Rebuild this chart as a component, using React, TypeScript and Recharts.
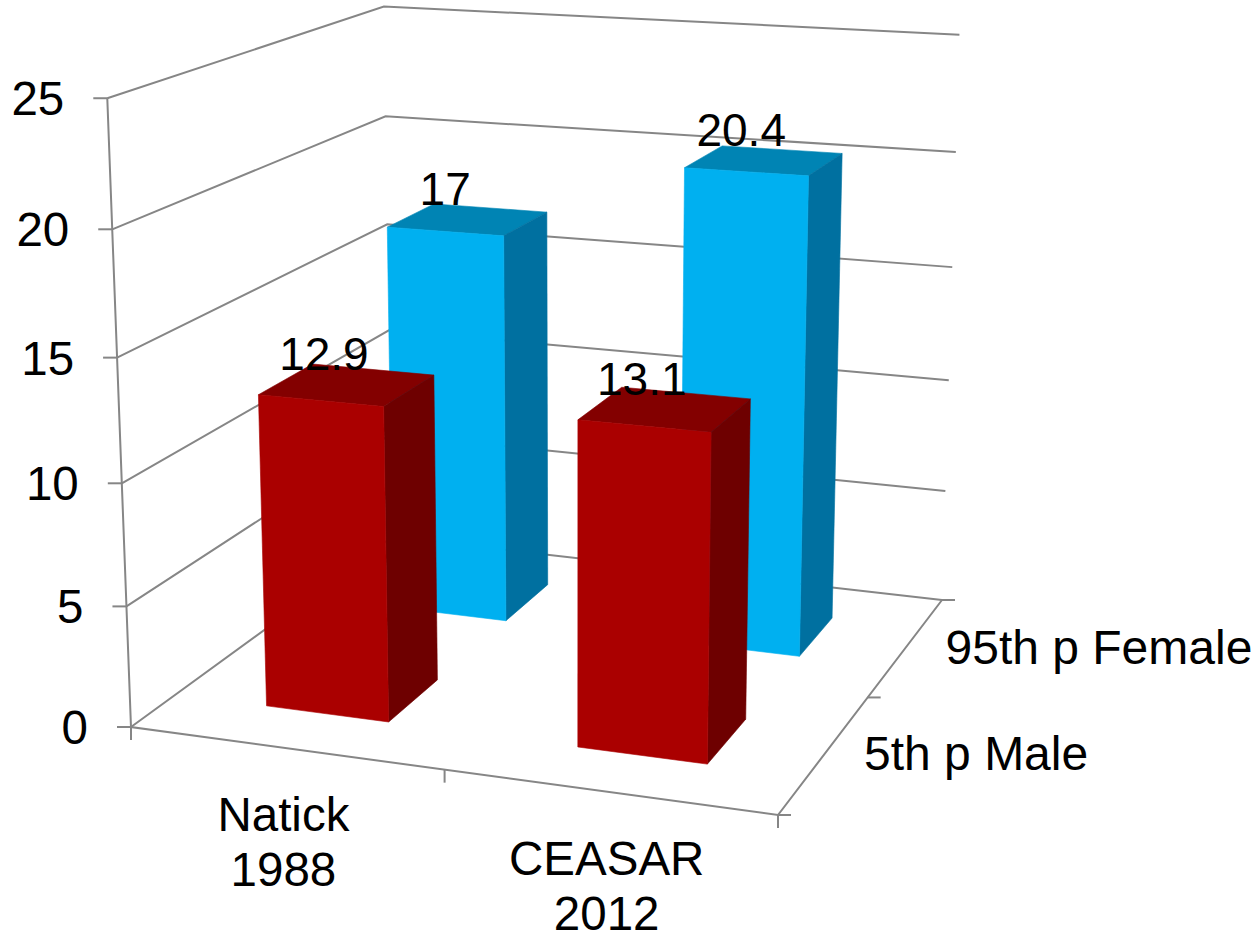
import React from 'react'
import { BarChart, Bar, XAxis, YAxis, CartesianGrid, LabelList } from 'recharts'

const categories = [['Natick', '1988'], ['CEASAR', '2012']]
const seriesNames = ['5th p Male', '95th p Female']
const maleValues = [12.9, 13.1]
const femaleValues = [17, 20.4]
const valueTicks = [0, 5, 10, 15, 20, 25]

const data = categories.map((c, i) => ({
  name: c.join(' '),
  male: maleValues[i],
  female: femaleValues[i],
}))

const W = 1257
const H = 936
const FONT = '"Liberation Sans", Arial, sans-serif'
const LABEL_SIZE = 46
const AXIS_SIZE = 47.5
const DEPTH_SIZE = 48
const GRID = '#868686'

// the chart's plot rectangle, which gets mapped onto the 3D box below
const M = 100
const PW = W - M * 2
const PH = H - M * 2

type Pt = [number, number]

// floor corners on screen, (u,v) = (0,0) (1,0) (1,1) (0,1)
const A: Pt = [131, 727]
const B: Pt = [778, 815]
const C: Pt = [942, 600]
const D: Pt = [392, 537]
// where the vertical edges meet, far below the picture
const VANISH: Pt = [575, 12500]
const HEIGHT = 0.0507
const HEIGHT_SKEW = 0.015

const den = (B[0] - C[0]) * (D[1] - C[1]) - (D[0] - C[0]) * (B[1] - C[1])
const sx = A[0] - B[0] + C[0] - D[0]
const sy = A[1] - B[1] + C[1] - D[1]
const G = (sx * (D[1] - C[1]) - (D[0] - C[0]) * sy) / den
const K = ((B[0] - C[0]) * sy - sx * (B[1] - C[1])) / den

// u along the front edge, v into the depth, t = value / max
function project(u: number, v: number, t: number): Pt {
  const q = G * u + K * v + 1
  const xq = (B[0] - A[0] + G * B[0]) * u + (D[0] - A[0] + K * D[0]) * v + A[0]
  const yq = (B[1] - A[1] + G * B[1]) * u + (D[1] - A[1] + K * D[1]) * v + A[1]
  const tau = -HEIGHT * (1 + HEIGHT_SKEW * u) * t
  return [(xq + tau * VANISH[0]) / (q + tau), (yq + tau * VANISH[1]) / (q + tau)]
}

const toU = (x: number) => (x - M) / PW
const toT = (y: number) => (M + PH - y) / PH
const pts = (list: Pt[]) => list.map((p) => p.join(',')).join(' ')

function barShape(v0: number, v1: number, front: string, side: string, top: string) {
  return (props: any) => {
    const { x, y, width } = props
    const u0 = toU(x)
    const u1 = toU(x + width)
    const t = toT(y)
    // thin same-colour stroke hides the seams between the faces
    return (
      <g strokeWidth={0.6}>
        <polygon fill={top} stroke={top} points={pts([project(u0, v0, t), project(u1, v0, t), project(u1, v1, t), project(u0, v1, t)])} />
        <polygon fill={side} stroke={side} points={pts([project(u1, v0, 0), project(u1, v1, 0), project(u1, v1, t), project(u1, v0, t)])} />
        <polygon fill={front} stroke={front} points={pts([project(u0, v0, 0), project(u1, v0, 0), project(u1, v0, t), project(u0, v0, t)])} />
      </g>
    )
  }
}

function barLabel(v: number) {
  return (props: any) => {
    const { x, y, width, value } = props
    const p = project(toU(x + width / 2), v, toT(y))
    return (
      <text x={p[0] - 24} y={p[1] - 14} textAnchor="middle" fontFamily={FONT} fontSize={LABEL_SIZE} fill="#000">
        {value}
      </text>
    )
  }
}

function GridLine(props: any) {
  const t = toT(props.y1)
  return (
    <polyline
      fill="none"
      stroke={GRID}
      strokeWidth={2}
      points={pts([project(0, 0, t), project(0, 1, t), project(1, 1, t)])}
    />
  )
}

function ValueTick(props: any) {
  const { y, payload } = props
  const p = project(0, 0, toT(y))
  return (
    <g>
      <line x1={p[0] - 14} y1={p[1]} x2={p[0]} y2={p[1]} stroke={GRID} strokeWidth={2} />
      <text x={p[0] - 43} y={p[1] + 17} textAnchor="end" fontFamily={FONT} fontSize={AXIS_SIZE} fill="#000">
        {payload.value}
      </text>
    </g>
  )
}

function CategoryTick(props: any) {
  const { x, index } = props
  const u = toU(x)
  const p = project(u, 0, 0)
  return (
    <text textAnchor="middle" fontFamily={FONT} fontSize={AXIS_SIZE} fill="#000">
      {categories[index].map((line, i) => (
        <tspan key={line} x={p[0] - 2} y={p[1] + 83 + i * 55}>
          {line}
        </tspan>
      ))}
    </text>
  )
}

// floor frame, its tick marks and the depth axis names
function FloorFrame() {
  const corners = [project(0, 0, 1), project(0, 0, 0), project(1, 0, 0), project(1, 1, 0)]
  const marks = [0, 0.5, 1].map((u) => project(u, 0, 0))
  const depthMarks = [0, 0.5, 1].map((v) => project(1, v, 0))
  return (
    <g>
      <polyline fill="none" stroke={GRID} strokeWidth={2} points={pts(corners)} />
      {marks.map((p, i) => (
        <line key={i} x1={p[0]} y1={p[1]} x2={p[0]} y2={p[1] + 13} stroke={GRID} strokeWidth={2} />
      ))}
      {depthMarks.map((p, i) => (
        <line key={i} x1={p[0]} y1={p[1]} x2={p[0] + 13} y2={p[1]} stroke={GRID} strokeWidth={2} />
      ))}
      {seriesNames.map((name, i) => {
        const p = project(1, (i + 0.5) / seriesNames.length, 0)
        return (
          <text key={name} x={p[0] + 39} y={p[1] + 17} fontFamily={FONT} fontSize={DEPTH_SIZE} fill="#000">
            {name}
          </text>
        )
      })}
    </g>
  )
}

export default function App() {
  const barSize = Math.round(PW * 0.2)
  return (
    <div style={{ position: 'absolute', left: 0, top: 0, width: W, height: H, background: '#fff' }}>
      <BarChart
        width={W}
        height={H}
        data={data}
        margin={{ top: M, right: M, bottom: M - 1, left: M - 1 }}
        barSize={barSize}
        barGap={-barSize}
      >
        <CartesianGrid vertical={false} horizontal={GridLine as any} />
        <FloorFrame />
        <XAxis dataKey="name" height={1} axisLine={false} tickLine={false} interval={0} tick={CategoryTick as any} />
        <YAxis width={1} domain={[0, 25]} ticks={valueTicks} axisLine={false} tickLine={false} tick={ValueTick as any} />
        <Bar dataKey="female" isAnimationActive={false} shape={barShape(0.645, 0.845, '#00B0F0', '#0070A0', '#0084B4')}>
          <LabelList dataKey="female" content={barLabel(0.75) as any} />
        </Bar>
        <Bar dataKey="male" isAnimationActive={false} shape={barShape(0.15, 0.345, '#AA0000', '#6E0000', '#830000')}>
          <LabelList dataKey="male" content={barLabel(0.25) as any} />
        </Bar>
      </BarChart>
    </div>
  )
}
